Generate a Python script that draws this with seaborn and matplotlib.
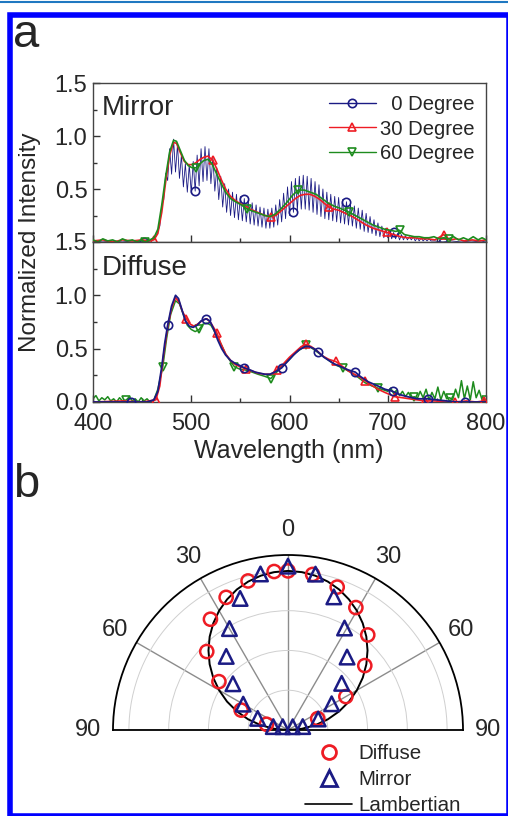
import matplotlib
matplotlib.use("Agg")
import matplotlib.pyplot as plt
from matplotlib.lines import Line2D
from matplotlib.patches import Rectangle
from matplotlib.ticker import MultipleLocator
import numpy as np
import seaborn as sns

sns.set_theme(style="ticks")
plt.rcParams["font.family"] = ["Liberation Sans", "DejaVu Sans"]

NAVY = "#1b1b84"
RED = "#ee1c24"
GREEN = "#1e8c1e"

# ---------------- panel a : mirror, 0 degree (interference fringes) ----------------
mirror0_left_wl = [400, 410, 420, 430, 440, 452, 458, 463]
mirror0_left = [0.01, 0.0, 0.01, 0.0, 0.01, 0.0, 0.01, 0.03]
fringe_top_wl = np.arange(466, 743, 4)
fringe_top = [0.10, 0.35, 0.65, 0.88, 0.97, 0.92, 0.82, 0.74, 0.73, 0.76,
              0.82, 0.88, 0.90, 0.88, 0.80, 0.70, 0.62, 0.55, 0.50, 0.47,
              0.45, 0.43, 0.41, 0.39, 0.37, 0.35, 0.33, 0.32, 0.31, 0.32,
              0.35, 0.40, 0.46, 0.52, 0.57, 0.60, 0.62, 0.63, 0.62, 0.60,
              0.57, 0.54, 0.50, 0.47, 0.45, 0.43, 0.42, 0.40, 0.38, 0.36,
              0.34, 0.32, 0.30, 0.27, 0.24, 0.21, 0.18, 0.15, 0.13, 0.11,
              0.09, 0.08, 0.07, 0.06, 0.05, 0.05, 0.04, 0.04, 0.03, 0.03]
fringe_bot_wl = np.arange(468, 745, 4)
fringe_bot = [0.15, 0.40, 0.58, 0.64, 0.66, 0.60, 0.52, 0.47, 0.46, 0.48,
              0.53, 0.57, 0.58, 0.55, 0.48, 0.40, 0.33, 0.28, 0.25, 0.23,
              0.21, 0.20, 0.19, 0.17, 0.16, 0.15, 0.14, 0.13, 0.13, 0.14,
              0.16, 0.19, 0.22, 0.25, 0.28, 0.30, 0.31, 0.31, 0.30, 0.28,
              0.26, 0.24, 0.22, 0.21, 0.20, 0.19, 0.18, 0.17, 0.16, 0.15,
              0.13, 0.12, 0.10, 0.09, 0.08, 0.06, 0.05, 0.04, 0.04, 0.03,
              0.03, 0.02, 0.02, 0.02, 0.02, 0.01, 0.01, 0.01, 0.01, 0.01]
mirror0_right_wl = [748, 756, 765, 775, 785, 795, 800]
mirror0_right = [0.01, 0.0, 0.01, 0.0, 0.01, 0.0, 0.01]
mirror0_marks = [452, 504, 554, 604, 658, 706, 756]

# ---------------- panel a : mirror, 30 and 60 degree ----------------
mirror30_wl = [400, 410, 420, 430, 440, 450, 456, 462, 466, 470,
               474, 478, 482, 485, 489, 493, 497, 501, 505, 509,
               513, 517, 522, 526, 530, 535, 540, 545, 550, 555,
               560, 565, 570, 575, 581, 586, 591, 596, 601, 606,
               611, 616, 621, 626, 631, 636, 640, 645, 650, 657,
               664, 671, 678, 685, 692, 699, 706, 713, 720, 727,
               734, 741, 748, 757, 763, 770, 778, 786, 793, 800]
mirror30 = [0.01, 0.02, 0.0, 0.02, 0.01, 0.02, 0.01, 0.02, 0.08, 0.28,
            0.57, 0.82, 0.94, 0.93, 0.84, 0.76, 0.73, 0.73, 0.75, 0.78,
            0.80, 0.81, 0.77, 0.69, 0.60, 0.50, 0.43, 0.39, 0.36, 0.34,
            0.31, 0.29, 0.27, 0.25, 0.24, 0.25, 0.29, 0.33, 0.37, 0.41,
            0.44, 0.45, 0.45, 0.43, 0.40, 0.36, 0.33, 0.31, 0.30, 0.27,
            0.24, 0.20, 0.16, 0.13, 0.11, 0.09, 0.07, 0.05, 0.04, 0.04,
            0.03, 0.03, 0.02, 0.07, 0.02, 0.03, 0.01, 0.02, 0.01, 0.02]
mirror30_marks = [462, 522, 581, 640, 699, 757]

mirror60_wl = [400, 405, 410, 415, 420, 425, 430, 435, 440, 445,
               449, 453, 458, 462, 466, 470, 474, 478, 482, 485,
               489, 493, 497, 501, 505, 509, 513, 517, 521, 525,
               530, 535, 540, 545, 551, 557, 563, 569, 575, 580,
               585, 591, 597, 603, 609, 615, 621, 627, 633, 639,
               645, 651, 656, 661, 667, 673, 679, 685, 691, 697,
               703, 708, 712, 717, 722, 727, 732, 737, 742, 747,
               752, 757, 762, 767, 772, 777, 782, 787, 792, 796, 800]
mirror60 = [0.02, 0.0, 0.03, 0.01, 0.02, 0.0, 0.03, 0.01, 0.02, 0.0,
            0.02, 0.0, 0.02, 0.04, 0.12, 0.35, 0.62, 0.85, 0.96, 0.95,
            0.86, 0.77, 0.72, 0.70, 0.70, 0.74, 0.77, 0.78, 0.74, 0.66,
            0.56, 0.47, 0.41, 0.38, 0.35, 0.31, 0.29, 0.27, 0.25, 0.24,
            0.26, 0.31, 0.37, 0.44, 0.49, 0.49, 0.47, 0.45, 0.41, 0.37,
            0.34, 0.32, 0.30, 0.28, 0.25, 0.22, 0.19, 0.16, 0.14, 0.12,
            0.11, 0.10, 0.11, 0.07, 0.06, 0.05, 0.05, 0.04, 0.04, 0.05,
            0.03, 0.04, 0.03, 0.05, 0.02, 0.04, 0.02, 0.05, 0.02, 0.04, 0.02]
mirror60_marks = [453, 505, 557, 609, 661, 712, 762]

# ---------------- panel a : diffuse ----------------
diffuse0_wl = [400, 420, 439, 455, 462, 466, 470, 473, 476, 480,
               484, 487, 490, 494, 498, 502, 506, 510, 515, 519,
               523, 527, 531, 535, 540, 545, 550, 554, 560, 565,
               570, 575, 580, 585, 592, 598, 604, 610, 616, 620,
               625, 629, 635, 640, 645, 650, 655, 660, 667, 672,
               680, 690, 697, 705, 712, 720, 730, 741, 750, 760,
               770, 779, 790, 800]
diffuse0 = [0.0, 0.0, 0.0, 0.0, 0.02, 0.10, 0.33, 0.55, 0.72, 0.90,
            1.0, 0.97, 0.88, 0.76, 0.71, 0.70, 0.72, 0.76, 0.78, 0.76,
            0.68, 0.58, 0.50, 0.44, 0.39, 0.36, 0.34, 0.32, 0.30, 0.28,
            0.27, 0.26, 0.26, 0.28, 0.32, 0.38, 0.44, 0.49, 0.52, 0.52,
            0.50, 0.47, 0.42, 0.39, 0.36, 0.34, 0.32, 0.30, 0.28, 0.24,
            0.19, 0.15, 0.12, 0.10, 0.07, 0.05, 0.03, 0.03, 0.02, 0.01,
            0.0, 0.0, 0.0, 0.0]
diffuse0_marks = [439, 476, 515, 554, 592, 629, 667, 705, 741, 779]

diffuse30_wl = [400, 430, 450, 464, 468, 472, 476, 480, 484, 488,
                491, 495, 499, 503, 508, 512, 516, 520, 526, 530,
                535, 540, 545, 550, 556, 562, 568, 575, 581, 587,
                593, 600, 606, 612, 617, 622, 628, 634, 640, 647,
                653, 660, 666, 672, 677, 683, 690, 697, 702, 707,
                715, 722, 730, 738, 748, 758, 768, 780, 790, 798, 800]
diffuse30 = [0.0, 0.01, 0.0, 0.02, 0.15, 0.45, 0.70, 0.88, 0.98, 0.93,
             0.85, 0.78, 0.73, 0.71, 0.74, 0.77, 0.78, 0.74, 0.65, 0.55,
             0.45, 0.39, 0.35, 0.33, 0.31, 0.29, 0.27, 0.26, 0.26, 0.30,
             0.35, 0.42, 0.47, 0.52, 0.54, 0.52, 0.48, 0.43, 0.40, 0.38,
             0.34, 0.29, 0.26, 0.23, 0.20, 0.16, 0.12, 0.09, 0.07, 0.05,
             0.04, 0.03, 0.02, 0.01, 0.01, 0.0, 0.0, 0.01, 0.0, 0.01, 0.0]
diffuse30_marks = [464, 495, 526, 556, 587, 617, 647, 677, 707, 738, 768, 798]

diffuse60_wl = [400, 403, 406, 409, 412, 415, 418, 421, 424, 427,
                430, 434, 437, 440, 443, 446, 449, 452, 455, 458,
                462, 466, 471, 475, 479, 484, 488, 492, 496, 500,
                504, 508, 512, 516, 520, 525, 530, 535, 540, 544,
                549, 555, 562, 568, 575, 581, 587, 593, 600, 606,
                612, 617, 622, 628, 634, 640, 646, 654, 658, 664,
                670, 677, 684, 690, 697, 700, 703, 706, 709, 712,
                715, 718, 721, 724, 727, 730, 733, 736, 739, 742,
                745, 748, 751, 754, 757, 760, 763, 766, 769, 772,
                775, 778, 781, 784, 787, 790, 793, 796, 800]
diffuse60 = [0.03, 0.06, 0.01, 0.04, 0.02, 0.05, 0.01, 0.03, 0.0, 0.04,
             0.01, 0.02, 0.05, 0.01, 0.03, 0.0, 0.04, 0.01, 0.03, 0.0,
             0.02, 0.12, 0.33, 0.60, 0.82, 0.95, 0.92, 0.82, 0.72, 0.68,
             0.66, 0.68, 0.73, 0.74, 0.72, 0.64, 0.55, 0.45, 0.38, 0.33,
             0.31, 0.30, 0.28, 0.26, 0.24, 0.22, 0.28, 0.34, 0.40, 0.46,
             0.50, 0.53, 0.51, 0.47, 0.43, 0.39, 0.35, 0.32, 0.30, 0.27,
             0.23, 0.18, 0.15, 0.13, 0.11, 0.10, 0.13, 0.08, 0.11, 0.06,
             0.10, 0.05, 0.09, 0.04, 0.05, 0.03, 0.10, 0.04, 0.12, 0.02,
             0.09, 0.03, 0.14, 0.02, 0.10, 0.03, 0.04, 0.02, 0.12, 0.04,
             0.20, 0.03, 0.15, 0.02, 0.19, 0.04, 0.11, 0.02, 0.02]
diffuse60_marks = [434, 471, 508, 544, 581, 617, 654, 690, 727, 763, 800]

# ---------------- panel b : angular distribution ----------------
diffuse_deg = [-75, -67, -55, -46, -35, -25, -15, -5, 0, 9, 19, 29, 40, 50, 60, 69]
diffuse_r = [0.14, 0.32, 0.53, 0.71, 0.85, 0.92, 0.97, 1.0, 1.0, 0.99, 0.95, 0.88, 0.78, 0.63, 0.42, 0.20]
mirror_deg = [-77, -69, -60, -58, -50, -40, -30, -20, -10, 0, 10, 19, 29, 39, 49, 55, 59, 70, 77]
mirror_r = [0.095, 0.204, 0.325, 0.039, 0.452, 0.604, 0.736, 0.88, 0.996, 1.03,
            0.995, 0.885, 0.733, 0.59, 0.447, 0.036, 0.32, 0.202, 0.095]
lam_deg = [-90, -85, -80, -75, -70, -65, -60, -55, -50, -45, -40, -35, -30, -25, -20, -15, -10, -5,
           0, 5, 10, 15, 20, 25, 30, 35, 40, 45, 50, 55, 60, 65, 70, 75, 80, 85, 90]
lam_r = [0.0, 0.087, 0.174, 0.259, 0.342, 0.423, 0.5, 0.574, 0.643, 0.707, 0.766, 0.819, 0.866,
         0.906, 0.94, 0.966, 0.985, 0.996, 1.0, 0.996, 0.985, 0.966, 0.94, 0.906, 0.866, 0.819,
         0.766, 0.707, 0.643, 0.574, 0.5, 0.423, 0.342, 0.259, 0.174, 0.087, 0.0]

W, H = 508, 816
fig = plt.figure(figsize=(W / 100, H / 100), dpi=100)


def draw(ax, wl, val, marks, color, marker, lw, z):
    wl = np.asarray(wl, dtype=float)
    sns.lineplot(x=wl, y=np.asarray(val, dtype=float), ax=ax, color=color, lw=lw,
                 marker=marker, markevery=np.isin(wl, marks), markersize=6,
                 markerfacecolor="none", markeredgecolor=color, markeredgewidth=1.2,
                 estimator=None, sort=False, zorder=z)


ax_m = fig.add_axes([93 / W, 1 - 242 / H, 393 / W, 159 / H])
ax_d = fig.add_axes([93 / W, 1 - 402 / H, 393 / W, 160 / H])

# mirror 0 degree: merge the two fringe envelopes into one zig-zag trace
fr_wl = np.concatenate([fringe_top_wl, fringe_bot_wl])
fr_val = np.concatenate([fringe_top, fringe_bot])
order = np.argsort(fr_wl)
m0_wl = np.concatenate([mirror0_left_wl, fr_wl[order], mirror0_right_wl])
m0_val = np.concatenate([mirror0_left, fr_val[order], mirror0_right])

draw(ax_m, m0_wl, m0_val, mirror0_marks, NAVY, "o", 0.6, 2)
draw(ax_m, mirror30_wl, mirror30, mirror30_marks, RED, "^", 1.2, 3)
draw(ax_m, mirror60_wl, mirror60, mirror60_marks, GREEN, "v", 1.2, 4)

draw(ax_d, diffuse60_wl, diffuse60, diffuse60_marks, GREEN, "v", 1.1, 2)
draw(ax_d, diffuse30_wl, diffuse30, diffuse30_marks, RED, "^", 1.2, 3)
draw(ax_d, diffuse0_wl, diffuse0, diffuse0_marks, NAVY, "o", 1.3, 4)

for ax in (ax_m, ax_d):
    ax.set_xlim(400, 800)
    ax.set_ylim(0, 1.5)
    ax.xaxis.set_major_locator(MultipleLocator(100))
    ax.xaxis.set_minor_locator(MultipleLocator(50))
    ax.yaxis.set_minor_locator(MultipleLocator(0.25))
    ax.tick_params(which="both", direction="in", top=False, right=False,
                   labelsize=17, color="#333333", width=1, pad=4)
    ax.tick_params(which="major", length=5)
    ax.tick_params(which="minor", length=3)
    for s in ax.spines.values():
        s.set_color("#444444")
        s.set_linewidth(1)
    ax.set_xlabel("")
    ax.set_ylabel("")

ax_m.set_yticks([0.5, 1.0, 1.5])
ax_m.tick_params(labelbottom=False)
ax_d.set_yticks([0.0, 0.5, 1.0, 1.5])
ax_d.tick_params(axis="x", pad=8)

ax_m.text(0.022, 0.80, "Mirror", transform=ax_m.transAxes, fontsize=20, va="baseline")
ax_d.text(0.022, 0.794, "Diffuse", transform=ax_d.transAxes, fontsize=20, va="baseline")

leg_handles = [
    Line2D([], [], color=c, lw=1, marker=m, ms=6, mfc="none", mec=c, mew=1.2)
    for c, m in [(NAVY, "o"), (RED, "^"), (GREEN, "v")]
]
ax_m.legend(leg_handles, ["  0 Degree", "30 Degree", "60 Degree"], loc="upper left",
            bbox_to_anchor=(329 / W, 1 - 95.5 / H), bbox_transform=fig.transFigure,
            frameon=False, fontsize=14.6, handlelength=2.3, handletextpad=0.2,
            labelspacing=0.25, borderpad=0, borderaxespad=0)

fig.text(30 / W, 1 - 242 / H, "Normalized Intensity", rotation=90, ha="center",
         va="center", fontsize=17.5)
fig.text(289 / W, 1 - 458 / H, "Wavelength (nm)", ha="center", va="baseline", fontsize=18)

# ---------------- panel b ----------------
# square box: the half disc is fitted to its width and centred vertically
ax_p = fig.add_axes([113 / W, 1 - 817.5 / H, 350 / W, 350 / H], projection="polar")
ax_p.set_theta_zero_location("N")
ax_p.set_theta_direction(-1)
ax_p.set_thetamin(-90)
ax_p.set_thetamax(90)

sns.lineplot(x=np.deg2rad(lam_deg), y=lam_r, ax=ax_p, color="black", lw=1.4,
             sort=False, estimator=None, zorder=2)
sns.scatterplot(x=np.deg2rad(diffuse_deg), y=diffuse_r, ax=ax_p, marker="o", s=90,
                color=RED, facecolor="none", edgecolor=RED, linewidth=1.8, zorder=3,
                clip_on=False)
sns.scatterplot(x=np.deg2rad(mirror_deg), y=mirror_r, ax=ax_p, marker="^", s=110,
                color=NAVY, facecolor="none", edgecolor=NAVY, linewidth=1.8, zorder=4,
                clip_on=False)

ax_p.set_ylim(0, 1.1)
ax_p.set_xticks(np.deg2rad([-90, -60, -30, 0, 30, 60, 90]))
ax_p.set_xticklabels(["90", "60", "30", "0", "30", "60", "90"])
ax_p.set_xticks(np.deg2rad(np.arange(-80, 90, 10)), minor=True)
ax_p.tick_params(axis="x", which="both", direction="in", color="black", width=1,
                 labelsize=17, pad=11)
ax_p.tick_params(axis="x", which="major", length=6)
ax_p.tick_params(axis="x", which="minor", length=5)
ax_p.set_yticks([0.25, 0.5, 0.75, 1.0])
ax_p.set_yticklabels([])
ax_p.tick_params(axis="y", length=0)
ax_p.set_axisbelow(True)
ax_p.xaxis.grid(True, color="#8c8c8c", lw=1)
ax_p.yaxis.grid(True, color="#cfcfcf", lw=0.7)
for name in ("polar", "start", "end"):
    ax_p.spines[name].set_color("black")
    ax_p.spines[name].set_linewidth(1.3)
ax_p.set_xlabel("")
ax_p.set_ylabel("")

pol_handles = [
    Line2D([], [], ls="none", marker="o", ms=10, mfc="none", mec=RED, mew=2),
    Line2D([], [], ls="none", marker="^", ms=11, mfc="none", mec=NAVY, mew=2),
    Line2D([], [], color="black", lw=1.2),
]
ax_p.legend(pol_handles, ["Diffuse", "Mirror", "Lambertian"], loc="upper left",
            bbox_to_anchor=(305 / W, 1 - 744 / H), bbox_transform=fig.transFigure,
            frameon=False, fontsize=14.8, handlelength=2.3, handletextpad=0.3,
            labelspacing=0.35, borderpad=0, borderaxespad=0)

# panel letters and page decoration
fig.text(13 / W, 1 - 47 / H, "a", fontsize=34, va="baseline", ha="left")
fig.text(13 / W, 1 - 497 / H, "b", fontsize=34, va="baseline", ha="left")
fig.add_artist(Rectangle((10.3 / W, 1 - 815.5 / H), (509 - 10.3) / W, (815.5 - 14.5) / H,
                         transform=fig.transFigure, fill=False, ec="#0000ff", lw=4))
fig.add_artist(Line2D([0, 1], [1 - 2 / H, 1 - 2 / H], color="#1f78c1", lw=1.5,
                      transform=fig.transFigure))

fig.savefig("out.png", dpi=100)
